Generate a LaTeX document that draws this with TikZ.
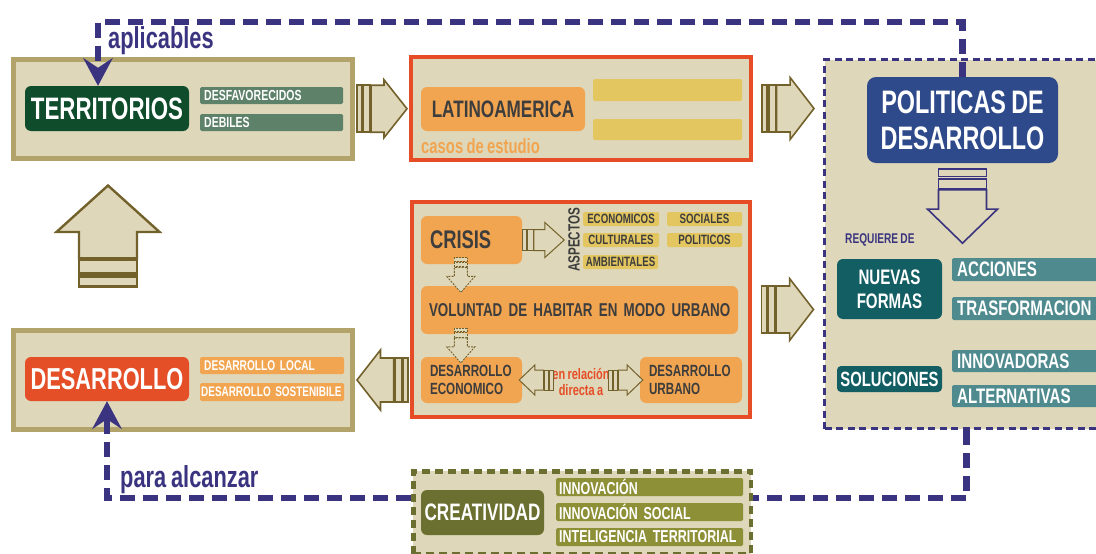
\documentclass[tikz,border=0pt]{standalone}
\usepackage{fontspec}
\setmainfont{Liberation Sans}[FakeStretch=0.72, WordSpace=0.8]
\usetikzlibrary{arrows.meta,calc}

\definecolor{tanfill}{HTML}{DED7B9}
\definecolor{tanline}{HTML}{B2A36A}
\definecolor{redline}{HTML}{E64D26}
\definecolor{navy}{HTML}{3A3480}
\definecolor{polblue}{HTML}{2F4A8B}
\definecolor{terrgreen}{HTML}{0F4C2C}
\definecolor{greenbar}{HTML}{5D8169}
\definecolor{orangebox}{HTML}{F2A551}
\definecolor{yellowbar}{HTML}{E3C660}
\definecolor{tealdark}{HTML}{135E63}
\definecolor{tealbar}{HTML}{4F8B8E}
\definecolor{desred}{HTML}{E44F28}
\definecolor{olivedark}{HTML}{6B7031}
\definecolor{olivebar}{HTML}{8E9037}
\definecolor{arrowc}{HTML}{73612C}
\definecolor{darktext}{HTML}{3D3D3D}

\newcommand\fsz[2]{\fontsize{#1}{#2}\selectfont\bfseries}

\tikzset{every picture/.style={x=1pt,y=-1pt}}
\tikzset{
  boxbase/.style={rectangle, fill=tanfill, inner sep=0pt},
  tanbox/.style={boxbase, draw=tanline, line width=5pt, minimum width=339pt, minimum height=99pt},
  redbox/.style={boxbase, draw=redline, line width=4pt},
  polframe/.style={boxbase, draw=navy, line width=3pt, dash pattern=on 7pt off 4.5pt, minimum width=284pt, minimum height=369pt},
  creaframe/.style={boxbase, draw=olivedark, line width=4.5pt, dash pattern=on 8pt off 5pt, minimum width=337.5pt, minimum height=82.5pt},
  tag/.style={rectangle, rounded corners=6pt, inner sep=0pt},
  lefttag/.style={tag, fill=orangebox, text=darktext, inner xsep=9pt, align=left},
  bar/.style={rectangle, rounded corners=1.5pt, anchor=west, inner ysep=0pt, inner xsep=4pt, align=left, text width=#1},
  aspect/.style={rectangle, rounded corners=1.5pt, fill=yellowbar, text=darktext, inner sep=0pt, minimum height=14pt, font=\fsz{13.5}{15}},
  navyline/.style={draw=navy, line width=6.5pt, dash pattern=on 15pt off 8pt},
  navytip/.style={-{Stealth[length=28pt, width=30pt, inset=10pt, line width=0pt]}},
  solidarrow/.style={draw=arrowc, fill=tanfill, line width=1.6pt},
  dasharrow/.style={draw=arrowc, fill=tanfill, line width=0.9pt, dash pattern=on 2pt off 1.2pt},
  navyarrow/.style={draw=navy, fill=tanfill, line width=1.6pt},
  pics/blockarrow/.style n args={3}{code={
    \path[pic actions] ({-0.5*#1},{-#3}) rectangle ({-0.4*#1},{#3});
    \path[pic actions] ({-0.37*#1},{-#3}) rectangle ({-0.24*#1},{#3});
    \path[pic actions] ({-0.22*#1},{-#3}) -- ({0.04*#1},{-#3}) -- ({0.04*#1},{-#2})
      -- ({0.5*#1},0) -- ({0.04*#1},{#2}) -- ({0.04*#1},{#3}) -- ({-0.22*#1},{#3}) -- cycle;
  }}
}

\begin{document}
\begin{tikzpicture}
\useasboundingbox (0,0) rectangle (1096,554);
\clip (0,0) rectangle (1096,554);

% frames
\node[tanbox] (terrbox) at (183,109) {};
\node[tanbox] (desbox) at (183,380) {};
\node[redbox, minimum width=340pt, minimum height=103pt] (latbox) at (581,108.5) {};
\node[redbox, minimum width=338pt, minimum height=215pt] (crisbox) at (581,309.5) {};
\node[polframe] (polbox) at (966.5,244) {};
\node[creaframe] (creabox) at (582,512.5) {};

% territorios
\node[tag, fill=terrgreen, text=white, minimum width=164pt, minimum height=45pt, font=\fsz{31}{35}] (terrnode) at (107,108.5) {TERRITORIOS};
\node[bar=135pt, fill=greenbar, text=white, minimum height=17pt, font=\fsz{14.6}{16}] (desfav) at (200,95.5) {DESFAVORECIDOS};
\node[bar=135pt, fill=greenbar, text=white, minimum height=17pt, font=\fsz{14.6}{16}] (debiles) at (200,122.5) {DEBILES};

% latinoamerica
\node[tag, fill=orangebox, text=darktext, minimum width=164pt, minimum height=44pt, font=\fsz{23.8}{28}] (latnode) at (503,109) {LATINOAMERICA};
\node[bar=141pt, fill=yellowbar, minimum height=22pt] (caso1) at (593,90) {};
\node[bar=141pt, fill=yellowbar, minimum height=21pt] (caso2) at (593,129.5) {};
\node[anchor=base west, text=orangebox, font=\fsz{20.6}{24}, inner sep=0pt] (casos) at (421,153) {casos de estudio};

% crisis
\node[lefttag, text width=83pt, minimum height=48pt, font=\fsz{25.5}{29}] (crisnode) at (471.5,240) {CRISIS};
\node[rotate=90, text=darktext, font=\fsz{16.2}{18}, inner sep=0pt] (aspectos) at (574,240) {ASPECTOS};
\node[aspect, minimum width=76pt] (econom) at (621,219) {ECONOMICOS};
\node[aspect, minimum width=75pt] (social) at (704.5,219) {SOCIALES};
\node[aspect, minimum width=76pt] (cultur) at (621,240) {CULTURALES};
\node[aspect, minimum width=75pt] (politic) at (704.5,240) {POLITICOS};
\node[aspect, minimum width=75pt] (ambient) at (620.5,262) {AMBIENTALES};
\node[lefttag, inner xsep=8pt, text width=301pt, minimum height=48pt, font=\fsz{18.6}{22}] (volnode) at (579.5,310) {\mbox{VOLUNTAD DE HABITAR EN MODO URBANO}};
\node[lefttag, text width=83pt, minimum height=46pt, font=\fsz{16.2}{18.5}] (econnode) at (471.5,380) {DESARROLLO\\ECONOMICO};
\node[lefttag, text width=84pt, minimum height=46pt, font=\fsz{16.2}{18.5}] (urbnode) at (691,380) {DESARROLLO\\URBANO};
\node[align=center, text=redline, font=\fsz{15.2}{15.5}, inner sep=0pt] (relacion) at ($(econnode.east)!0.5!(urbnode.west)+(0,2)$) {en relación\\directa a};

% politicas
\node[tag, rounded corners=9pt, fill=polblue, text=white, minimum width=191pt, minimum height=86pt, align=center, font=\fsz{32.5}{36}] (polnode) at (962.5,120) {POLITICAS DE\\DESARROLLO};
\node[anchor=base west, text=navy, font=\fsz{14.1}{16}, inner sep=0pt] (requiere) at (845,243) {REQUIERE DE};
\node[tag, fill=tealdark, text=white, minimum width=105pt, minimum height=60pt, align=center, font=\fsz{21}{24}] (nuevas) at (889.5,289) {NUEVAS\\FORMAS};
\node[tag, rounded corners=4pt, fill=tealdark, text=white, minimum width=105pt, minimum height=26pt, font=\fsz{20.6}{23}] (soluc) at (889.5,379) {SOLUCIONES};
\node[bar=148pt, inner xsep=5pt, fill=tealbar, text=white, minimum height=23pt, font=\fsz{21}{24}] (acciones) at (952,269.5) {ACCIONES};
\node[bar=148pt, inner xsep=5pt, fill=tealbar, text=white, minimum height=23pt, font=\fsz{21}{24}] (trasf) at (952,308.5) {TRASFORMACION};
\node[bar=148pt, inner xsep=5pt, fill=tealbar, text=white, minimum height=22pt, font=\fsz{21}{24}] (innov) at (952,361) {INNOVADORAS};
\node[bar=148pt, inner xsep=5pt, fill=tealbar, text=white, minimum height=22pt, font=\fsz{21}{24}] (altern) at (952,396) {ALTERNATIVAS};

% desarrollo
\node[tag, fill=desred, text=white, minimum width=164pt, minimum height=44pt, font=\fsz{30.3}{34}] (desnode) at (107,379) {DESARROLLO};
\node[bar=136pt, fill=orangebox, text=white, minimum height=17pt, font=\fsz{14.1}{16}] (deslocal) at (200,365.5) {DESARROLLO LOCAL};
\node[bar=142pt, inner xsep=1pt, fill=orangebox, text=white, minimum height=18pt, font=\fsz{13.8}{16}] (dessost) at (200,392) {\mbox{DESARROLLO SOSTENIBILE}};

% creatividad
\node[tag, fill=olivedark, text=white, minimum width=123pt, minimum height=45pt, font=\fsz{23.8}{28}] (creanode) at (482.5,512.5) {CREATIVIDAD};
\node[bar=181pt, inner xsep=3pt, fill=olivebar, text=white, minimum height=18pt, font=\fsz{17.3}{19}] (innovacion) at (556,487) {INNOVACIÓN};
\node[bar=181pt, inner xsep=3pt, fill=olivebar, text=white, minimum height=18pt, font=\fsz{17.3}{19}] (innsocial) at (556,512) {INNOVACIÓN SOCIAL};
\node[bar=181pt, inner xsep=3pt, fill=olivebar, text=white, minimum height=18pt, font=\fsz{17.3}{19}] (intelig) at (556,537) {\mbox{INTELIGENCIA TERRITORIAL}};

% block arrows
\pic[solidarrow] at ($(terrbox.east)!0.5!(latbox.west)$) {blockarrow={50}{29}{23.5}};
\pic[solidarrow] at ($(latbox.east)!0.5!(latbox.east -| polbox.west)$) {blockarrow={52}{31}{23.5}};
\pic[solidarrow] at ($(crisbox.east)!0.5!(crisbox.east -| polbox.west)$) {blockarrow={52}{31}{23.5}};
\pic[solidarrow, rotate=180] at ($(desbox.east)!0.5!(desbox.east -| crisbox.west)$) {blockarrow={51}{30}{22}};
\pic[solidarrow, line width=2.4pt, rotate=90] at (108,236) {blockarrow={101}{51.5}{29}};
\pic[solidarrow, line width=1pt] at ($(crisnode.east)+(21,0)$) {blockarrow={42}{17.5}{10.5}};
\pic[dasharrow, rotate=-90] at ($(crisnode.south west)!0.5!(volnode.north west)+(40,0)$) {blockarrow={35}{14}{6.5}};
\pic[dasharrow, rotate=-90] at ($(volnode.south west)!0.5!(econnode.north west)+(40,0)$) {blockarrow={35}{14}{6.5}};
\pic[solidarrow, line width=1pt, rotate=180] at ($(econnode.east)+(14,0)$) {blockarrow={34}{15}{10}};
\pic[solidarrow, line width=1pt] at ($(urbnode.west)+(-14,0)$) {blockarrow={34}{15}{10}};
\pic[navyarrow, rotate=-90] at ($(polnode.south)+(0,43)$) {blockarrow={74}{35}{24}};

% dashed links
\coordinate (topL) at (98,22);
\coordinate (run) at (0,498);
\draw[navyline, navytip] (polnode.north) |- (topL) -- (topL |- terrnode.north);
\draw[navyline] (polbox.south) |- (creabox.east |- run);
\draw[navyline, navytip] (creabox.west |- run) -| (desnode.south);
\node[anchor=base west, text=navy, font=\fsz{30.3}{34}, inner sep=0pt] (aplic) at (108,48) {aplicables};
\node[anchor=base west, text=navy, font=\fsz{30.3}{34}, inner sep=0pt] (alcanzar) at (120,487) {para alcanzar};
\end{tikzpicture}
\end{document}
